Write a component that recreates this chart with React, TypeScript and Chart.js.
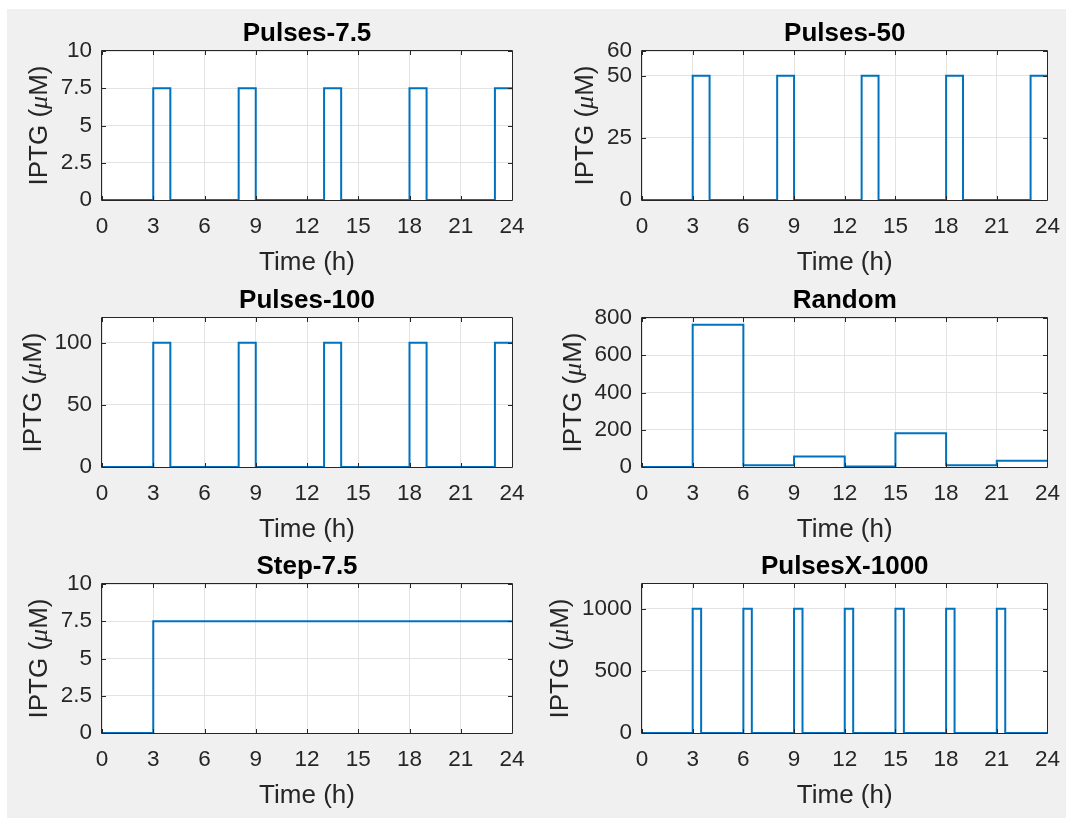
import React, { useEffect, useRef } from "react";
import { Chart, registerables } from "chart.js";

Chart.register(...registerables);

// ---------- data ----------
const timeTicks = [0, 3, 6, 9, 12, 15, 18, 21, 24];

const pulses75Time = [0, 3, 4, 8, 9, 13, 14, 18, 19, 23, 24];
const pulses75Value = [0, 7.5, 0, 7.5, 0, 7.5, 0, 7.5, 0, 7.5, 7.5];

const pulses50Time = [0, 3, 4, 8, 9, 13, 14, 18, 19, 23, 24];
const pulses50Value = [0, 50, 0, 50, 0, 50, 0, 50, 0, 50, 50];

const pulses100Time = [0, 3, 4, 8, 9, 13, 14, 18, 19, 23, 24];
const pulses100Value = [0, 100, 0, 100, 0, 100, 0, 100, 0, 100, 100];

const randomTime = [0, 3, 6, 9, 12, 15, 18, 21, 24];
const randomValue = [0, 764, 9, 57, 3, 181, 9, 34, 34];

const step75Time = [0, 3, 24];
const step75Value = [0, 7.5, 7.5];

const pulsesX1000Time = [0, 3, 3.5, 6, 6.5, 9, 9.5, 12, 12.5, 15, 15.5, 18, 18.5, 21, 21.5, 24];
const pulsesX1000Value = [0, 1000, 0, 1000, 0, 1000, 0, 1000, 0, 1000, 0, 1000, 0, 1000, 0, 0];

const yTicks75 = [0, 2.5, 5, 7.5, 10];
const yTicks50 = [0, 25, 50, 60];
const yTicks100 = [0, 50, 100];
const yTicksRandom = [0, 200, 400, 600, 800];
const yTicksX1000 = [0, 500, 1000];

const titles = ["Pulses-7.5", "Pulses-50", "Pulses-100", "Random", "Step-7.5", "PulsesX-1000"];
const yMaxes = [10, 60, 120, 800, 10, 1200];
const xLabel = "Time (h)";
const yLabelParts = ["IPTG (", "\u03bc", "M)"];

// ---------- styling / layout ----------
const FONT = '"Liberation Sans", Arial, Helvetica, sans-serif';
const TICK_SIZE = 22.5;
const LABEL_SIZE = 26;
const LINE_COLOR = "#0072BD";
const AXIS_COLOR = "#262626";
const GRID_COLOR = "#e3e3e3";

const COL_LEFT = [0, 540];
const COL_WIDTH = [540, 533];
const ROW_TOP = [18, 285, 551];
const TITLE_BOX = 33;
const PLOT_H = 149;
const X_AXIS_H = 84;
const Y_AXIS_W = 102;
const PLOT_W = 410;

type PanelProps = {
  title: string;
  times: number[];
  values: number[];
  yMax: number;
  yTicks: number[];
  left: number;
  top: number;
  width: number;
  height: number;
};

const matlabAxes = {
  id: "matlabAxes",
  beforeDraw(chart: any) {
    const { ctx, chartArea: ca } = chart;
    ctx.save();
    ctx.fillStyle = "#ffffff";
    ctx.fillRect(ca.left, ca.top, ca.right - ca.left, ca.bottom - ca.top);
    ctx.restore();
  },
  afterDatasetsDraw(chart: any) {
    const { ctx, chartArea: ca, scales } = chart;
    const L = Math.round(ca.left), R = Math.round(ca.right);
    const T = Math.round(ca.top), B = Math.round(ca.bottom);
    ctx.save();
    ctx.strokeStyle = AXIS_COLOR;
    ctx.lineWidth = 1;
    ctx.beginPath();
    ctx.rect(L - 0.5, T - 0.5, R - L + 1, B - T + 1);
    const tl = 4;
    scales.x.ticks.forEach((t: any) => {
      const px = Math.round(scales.x.getPixelForValue(t.value)) + 0.5;
      ctx.moveTo(px, B);
      ctx.lineTo(px, B - tl);
      ctx.moveTo(px, T);
      ctx.lineTo(px, T + tl);
    });
    scales.y.ticks.forEach((t: any) => {
      const py = Math.round(scales.y.getPixelForValue(t.value)) + 0.5;
      ctx.moveTo(L, py);
      ctx.lineTo(L + tl, py);
      ctx.moveTo(R, py);
      ctx.lineTo(R - tl, py);
    });
    ctx.stroke();
    ctx.restore();
  },
  afterDraw(chart: any) {
    const { ctx, chartArea: ca, scales } = chart;
    ctx.save();
    ctx.fillStyle = AXIS_COLOR;
    // x label
    ctx.font = `${LABEL_SIZE}px ${FONT}`;
    ctx.textAlign = "center";
    ctx.textBaseline = "alphabetic";
    ctx.fillText(xLabel, (ca.left + ca.right) / 2, ca.bottom + 61 + 0.358 * LABEL_SIZE);
    // y label placed left of widest tick label
    ctx.font = `${TICK_SIZE}px ${FONT}`;
    let maxW = 0;
    scales.y.ticks.forEach((t: any) => {
      maxW = Math.max(maxW, ctx.measureText(String(t.label)).width);
    });
    const tickLeft = ca.left - 10 - maxW;
    const capCenter = tickLeft - 23;
    const baseX = capCenter + 0.358 * LABEL_SIZE;
    const cy = (ca.top + ca.bottom) / 2;
    const fonts = [
      `${LABEL_SIZE}px ${FONT}`,
      `italic ${LABEL_SIZE}px "Liberation Serif", "DejaVu Serif", serif`,
      `${LABEL_SIZE}px ${FONT}`,
    ];
    const widths = yLabelParts.map((s, i) => {
      ctx.font = fonts[i];
      return ctx.measureText(s).width;
    });
    const total = widths.reduce((a, b) => a + b, 0);
    ctx.translate(baseX, cy);
    ctx.rotate(-Math.PI / 2);
    ctx.textAlign = "left";
    let x = -total / 2;
    yLabelParts.forEach((s, i) => {
      ctx.font = fonts[i];
      ctx.fillText(s, x, 0);
      x += widths[i];
    });
    ctx.restore();
  },
};

function Panel(p: PanelProps) {
  const ref = useRef<HTMLCanvasElement | null>(null);
  useEffect(() => {
    if (!ref.current) return;
    const chart = new Chart(ref.current, {
      type: "line",
      data: {
        datasets: [
          {
            data: p.times.map((t, i) => ({ x: t, y: p.values[i] })),
            borderColor: LINE_COLOR,
            borderWidth: 2,
            pointRadius: 0,
            stepped: true,
            fill: false,
            tension: 0,
            clip: 2,
            borderJoinStyle: "miter",
            borderCapStyle: "butt",
          } as any,
        ],
      },
      options: {
        animation: false,
        responsive: false,
        maintainAspectRatio: false,
        devicePixelRatio: 1,
        events: [],
        layout: { padding: { left: 0, top: 0, right: p.width - Y_AXIS_W - PLOT_W, bottom: 0 } },
        plugins: {
          legend: { display: false },
          tooltip: { enabled: false },
          title: {
            display: true,
            text: p.title,
            fullSize: false,
            color: "#000000",
            font: { family: FONT, size: LABEL_SIZE, weight: "bold", lineHeight: "31px" } as any,
            padding: { top: 0, bottom: 2 },
          },
        },
        scales: {
          x: {
            type: "linear",
            min: 0,
            max: 24,
            afterBuildTicks: (s: any) => {
              s.ticks = timeTicks.map((v) => ({ value: v }));
            },
            afterFit: (s: any) => {
              s.height = X_AXIS_H;
            },
            ticks: {
              autoSkip: false,
              maxRotation: 0,
              minRotation: 0,
              padding: 13,
              color: AXIS_COLOR,
              font: { family: FONT, size: TICK_SIZE },
              callback: (v: any) => String(v),
            },
            grid: { color: GRID_COLOR, drawTicks: false, lineWidth: 1 },
            border: { display: false },
          },
          y: {
            type: "linear",
            min: 0,
            max: p.yMax,
            afterBuildTicks: (s: any) => {
              s.ticks = p.yTicks.map((v) => ({ value: v }));
            },
            afterFit: (s: any) => {
              s.width = Y_AXIS_W;
            },
            ticks: {
              autoSkip: false,
              padding: 10,
              color: AXIS_COLOR,
              font: { family: FONT, size: TICK_SIZE },
              callback: (v: any) => String(v),
            },
            grid: { color: GRID_COLOR, drawTicks: false, lineWidth: 1 },
            border: { display: false },
          },
        },
      } as any,
      plugins: [matlabAxes as any],
    });
    return () => chart.destroy();
  }, []);
  return (
    <canvas
      ref={ref}
      width={p.width}
      height={p.height}
      style={{ position: "absolute", left: p.left, top: p.top, width: p.width, height: p.height, display: "block" }}
    />
  );
}

export default function App() {
  const series = [
    { times: pulses75Time, values: pulses75Value, yTicks: yTicks75 },
    { times: pulses50Time, values: pulses50Value, yTicks: yTicks50 },
    { times: pulses100Time, values: pulses100Value, yTicks: yTicks100 },
    { times: randomTime, values: randomValue, yTicks: yTicksRandom },
    { times: step75Time, values: step75Value, yTicks: yTicks75 },
    { times: pulsesX1000Time, values: pulsesX1000Value, yTicks: yTicksX1000 },
  ];
  return (
    <div style={{ position: "absolute", left: 0, top: 0, width: 1073, height: 821, background: "#ffffff", overflow: "hidden" }}>
      <div style={{ position: "absolute", left: 7, top: 9, width: 1059, height: 809, background: "#f0f0f0" }} />
      {series.map((s, i) => {
        const col = i % 2;
        const row = Math.floor(i / 2);
        return (
          <Panel
            key={i}
            title={titles[i]}
            times={s.times}
            values={s.values}
            yMax={yMaxes[i]}
            yTicks={s.yTicks}
            left={COL_LEFT[col]}
            top={ROW_TOP[row]}
            width={COL_WIDTH[col]}
            height={TITLE_BOX + PLOT_H + X_AXIS_H}
          />
        );
      })}
    </div>
  );
}
